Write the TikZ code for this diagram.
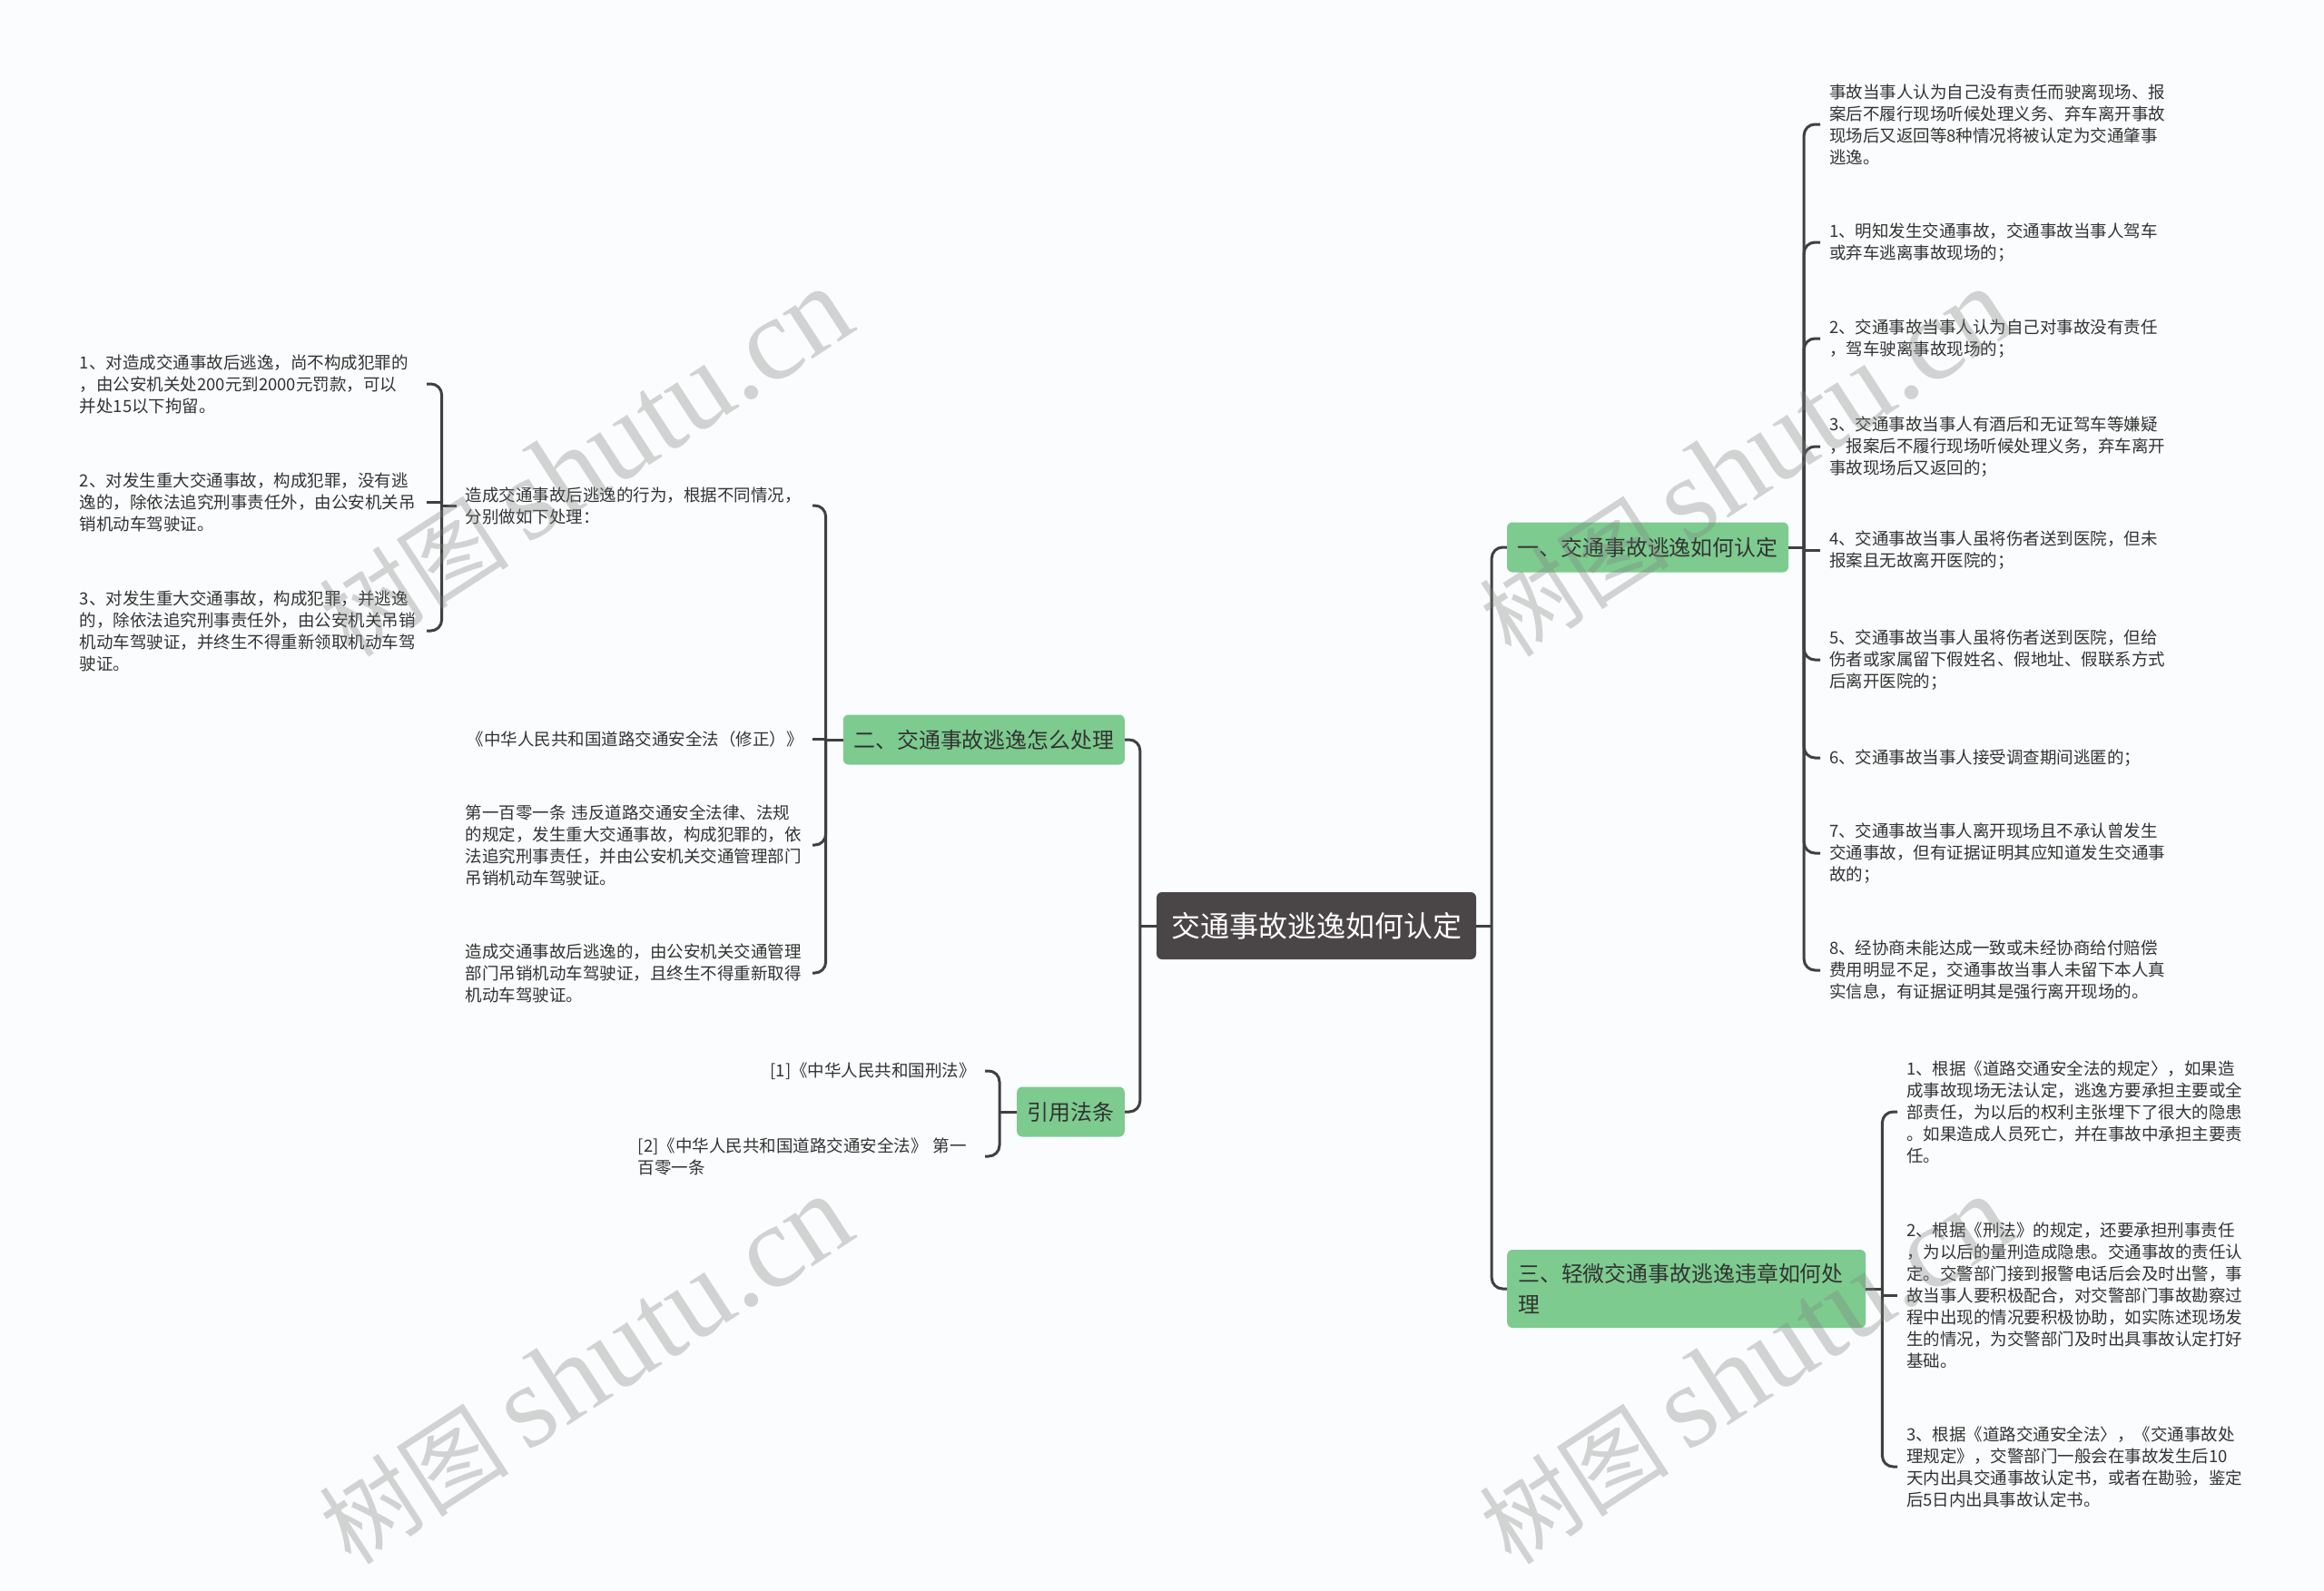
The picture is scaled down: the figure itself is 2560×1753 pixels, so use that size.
\documentclass[tikz,border=0pt]{standalone}
\usepackage{fontspec}
\setmainfont{Noto Sans CJK SC}
\newfontfamily\wmlatin{Liberation Serif}
\newfontfamily\wmcjk{Noto Sans CJK SC}
\definecolor{bgc}{RGB}{250,252,253}
\definecolor{rootfill}{RGB}{74,69,70}
\definecolor{greenfill}{RGB}{125,203,143}
\definecolor{connc}{RGB}{64,64,64}
\definecolor{txt}{RGB}{51,51,51}
\begin{document}
\begin{tikzpicture}[x=1pt,y=-1pt,
  rootbox/.style={fill=rootfill, text=white, rounded corners=6pt, font=\fontsize{32}{40}\selectfont, inner xsep=16pt, minimum height=74pt, minimum width=350pt},
  mainbox/.style={fill=greenfill, text=txt, rounded corners=6pt, font=\fontsize{23.9}{34}\selectfont, inner xsep=11.5pt, inner ysep=8pt, minimum height=55pt},
  leaf/.style={text=txt, font=\fontsize{18.5}{24}\selectfont, inner xsep=10pt, inner ysep=4pt, align=left},
  leafw/.style={leaf, text width=372pt},
  cline/.style={draw=connc, line width=3pt},
  branch/.style={cline, rounded corners=12pt},
  wm/.style={text=black!50, text opacity=0.33, rotate=33, inner sep=0pt}
]
\useasboundingbox (0,0) rectangle (2560,1753);
\fill[bgc] (0,0) rectangle (2560,1753);

% root and main branches
\node[rootbox] (root) at (1450,1020) {交通事故逃逸如何认定};
\node[mainbox, minimum width=310pt] (b1) at (1815,603) {一、交通事故逃逸如何认定};
\node[mainbox, anchor=west, text width=371pt, align=left, inner xsep=12pt, minimum height=86pt] (b3) at (1660,1420) {三、轻微交通事故逃逸违章如何处\\理};
\node[mainbox, minimum width=310pt, anchor=east] (b2) at (1239,815) {二、交通事故逃逸怎么处理};
\node[mainbox, anchor=east] (b4) at (1239,1225) {引用法条};

% left-most leaves
\node[leafw, anchor=east] (l1) at (470,423) {1、对造成交通事故后逃逸，尚不构成犯罪的\\，由公安机关处200元到2000元罚款，可以\\并处15以下拘留。};
\node[leafw, anchor=east] (l2) at (470,553) {2、对发生重大交通事故，构成犯罪，没有逃\\逸的，除依法追究刑事责任外，由公安机关吊\\销机动车驾驶证。};
\node[leafw, anchor=east] (l3) at (470,695) {3、对发生重大交通事故，构成犯罪，并逃逸\\的，除依法追究刑事责任外，由公安机关吊销\\机动车驾驶证，并终生不得重新领取机动车驾\\驶证。};

% children of b2
\node[leafw, anchor=east] (m1) at (895,557) {造成交通事故后逃逸的行为，根据不同情况，\\分别做如下处理：};
\node[leaf, anchor=east] (m2) at (895,814) {《中华人民共和国道路交通安全法（修正）》};
\node[leafw, anchor=east] (m3) at (895,931) {第一百零一条~违反道路交通安全法律、法规\\的规定，发生重大交通事故，构成犯罪的，依\\法追究刑事责任，并由公安机关交通管理部门\\吊销机动车驾驶证。};
\node[leafw, anchor=east] (m4) at (895,1072) {造成交通事故后逃逸的，由公安机关交通管理\\部门吊销机动车驾驶证，且终生不得重新取得\\机动车驾驶证。};

% children of b4
\node[leaf, anchor=east] (r1) at (1085,1180) {[1]《中华人民共和国刑法》};
\node[leafw, anchor=east] (r2) at (1085,1274) {[2]《中华人民共和国道路交通安全法》~第一\\百零一条};

% children of b1
\node[leafw, anchor=west] (c0) at (2005,137) {事故当事人认为自己没有责任而驶离现场、报\\案后不履行现场听候处理义务、弃车离开事故\\现场后又返回等8种情况将被认定为交通肇事\\逃逸。};
\node[leafw, anchor=west] (c1) at (2005,267) {1、明知发生交通事故，交通事故当事人驾车\\或弃车逃离事故现场的；};
\node[leafw, anchor=west] (c2) at (2005,373) {2、交通事故当事人认为自己对事故没有责任\\，驾车驶离事故现场的；};
\node[leafw, anchor=west] (c3) at (2005,492) {3、交通事故当事人有酒后和无证驾车等嫌疑\\，报案后不履行现场听候处理义务，弃车离开\\事故现场后又返回的；};
\node[leafw, anchor=west] (c4) at (2005,606) {4、交通事故当事人虽将伤者送到医院，但未\\报案且无故离开医院的；};
\node[leafw, anchor=west] (c5) at (2005,727) {5、交通事故当事人虽将伤者送到医院，但给\\伤者或家属留下假姓名、假地址、假联系方式\\后离开医院的；};
\node[leafw, anchor=west] (c6) at (2005,835) {6、交通事故当事人接受调查期间逃匿的；};
\node[leafw, anchor=west] (c7) at (2005,940) {7、交通事故当事人离开现场且不承认曾发生\\交通事故，但有证据证明其应知道发生交通事\\故的；};
\node[leafw, anchor=west] (c8) at (2005,1069) {8、经协商未能达成一致或未经协商给付赔偿\\费用明显不足，交通事故当事人未留下本人真\\实信息，有证据证明其是强行离开现场的。};

% children of b3
\node[leafw, anchor=west] (d1) at (2090,1225) {1、根据《道路交通安全法的规定〉，如果造\\成事故现场无法认定，逃逸方要承担主要或全\\部责任，为以后的权利主张埋下了很大的隐患\\。如果造成人员死亡，并在事故中承担主要责\\任。};
\node[leafw, anchor=west] (d2) at (2090,1427) {2、根据《刑法》的规定，还要承担刑事责任\\，为以后的量刑造成隐患。交通事故的责任认\\定。交警部门接到报警电话后会及时出警，事\\故当事人要积极配合，对交警部门事故勘察过\\程中出现的情况要积极协助，如实陈述现场发\\生的情况，为交警部门及时出具事故认定打好\\基础。};
\node[leafw, anchor=west] (d3) at (2090,1616) {3、根据《道路交通安全法〉，《交通事故处\\理规定》，交警部门一般会在事故发生后10\\天内出具交通事故认定书，或者在勘验，鉴定\\后5日内出具事故认定书。};

% connectors: root
\draw[cline] (root.east) -- ++(17,0) coordinate (jr);
\draw[branch] (jr) |- (b1.west);
\draw[branch] (jr) |- (b3.west);
\draw[cline] (root.west) -- ++(-18,0) coordinate (jl);
\draw[branch] (jl) |- (b2.east);
\draw[branch] (jl) |- (b4.east);

% b1
\draw[cline] (b1.east) -- ++(17,0) coordinate (j1);
\foreach \c in {c0,c1,c2,c3,c5,c6,c7,c8} \draw[branch] (j1) |- (\c.west);
\draw[cline] (j1) |- (c4.west);

% b3
\draw[cline] (b3.east) -- ++(18,0) coordinate (j3);
\foreach \c in {d1,d3} \draw[branch] (j3) |- (\c.west);
\draw[cline] (j3) |- (d2.west);

% b2
\draw[cline] (b2.west) -- ++(-19,0) coordinate (j2);
\foreach \c in {m1,m3,m4} \draw[branch] (j2) |- (\c.east);
\draw[cline] (j2) |- (m2.east);

% m1
\draw[cline] (m1.west) -- ++(-16,0) coordinate (jm);
\foreach \c in {l1,l3} \draw[branch] (jm) |- (\c.east);
\draw[cline] (jm) |- (l2.east);

% b4
\draw[cline] (b4.west) -- ++(-19,0) coordinate (j4);
\foreach \c in {r1,r2} \draw[branch] (j4) |- (\c.east);

% watermarks
\node[wm] (w1) at (645,510) {\fontsize{105}{110}\wmcjk 树图\hspace{0.2em}\fontsize{130}{130}\wmlatin shutu.cn};
\node[wm] (w2) at (1923,510) {\fontsize{105}{110}\wmcjk 树图\hspace{0.2em}\fontsize{130}{130}\wmlatin shutu.cn};
\node[wm] (w3) at (645,1510) {\fontsize{105}{110}\wmcjk 树图\hspace{0.2em}\fontsize{130}{130}\wmlatin shutu.cn};
\node[wm] (w4) at (1923,1510) {\fontsize{105}{110}\wmcjk 树图\hspace{0.2em}\fontsize{130}{130}\wmlatin shutu.cn};
\end{tikzpicture}
\end{document}
